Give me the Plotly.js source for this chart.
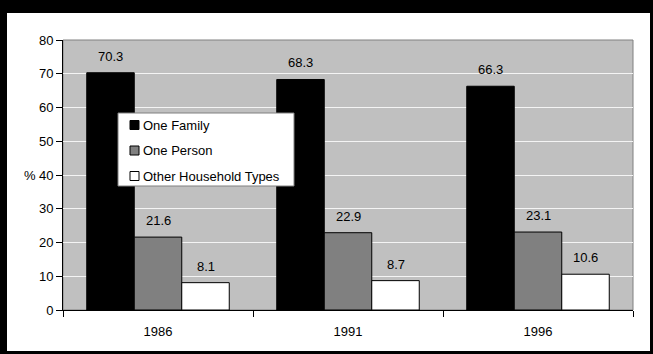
<!DOCTYPE html>
<html>
<head>
<meta charset="utf-8">
<script src="https://cdn.plot.ly/plotly-3.0.1.min.js"></script>
<style>
  html, body { margin: 0; padding: 0; background: #000; width: 653px; height: 354px; overflow: hidden; }
  #chart { position: absolute; left: 7px; top: 13px; width: 643px; height: 338px; background: #fff; }
</style>
</head>
<body>
<div id="chart"></div>
<script>
// Household composition by census year (%)
const years = ['1986', '1991', '1996'];
const oneFamily = [70.3, 68.3, 66.3];
const onePerson = [21.6, 22.9, 23.1];
const otherTypes = [8.1, 8.7, 10.6];
const seriesNames = ['One Family', 'One Person', 'Other Household Types'];
const seriesColors = ['#000000', '#808080', '#ffffff'];
const yTicks = [0, 10, 20, 30, 40, 50, 60, 70, 80];

const seriesValues = [oneFamily, onePerson, otherTypes];
const font = 'Liberation Sans, Arial, sans-serif';
const fontSize = 13;

// plot-area geometry (pixels inside the chart div)
const W = 643, H = 338;
const M = { l: 56, r: 17, t: 27, b: 41 };
const plotW = W - M.l - M.r, plotH = H - M.t - M.b;
const px = v => v / plotW;          // horizontal pixels -> paper fraction
const py = v => v / plotH;          // vertical pixels -> paper fraction

const traces = seriesValues.map((vals, i) => ({
  type: 'bar',
  x: years,
  y: vals,
  name: seriesNames[i],
  marker: { color: seriesColors[i], line: { color: '#000', width: 1 } },
  hoverinfo: 'skip',
  showlegend: false
}));

// value labels above each bar (three bars per group, each a quarter of a category wide)
const annotations = [];
seriesValues.forEach((vals, i) => {
  vals.forEach((v, j) => {
    annotations.push({
      xref: 'x', yref: 'y', x: j + (i - 1) * 0.25, y: v,
      text: v.toFixed(1), showarrow: false,
      xanchor: 'center', yanchor: 'bottom', yshift: 7,
      font: { family: font, size: fontSize, color: '#000' }
    });
  });
});
// unit label beside the 40 tick
annotations.push({
  xref: 'paper', yref: 'y', x: -px(25), y: 40, text: '%', showarrow: false,
  xanchor: 'right', yanchor: 'middle',
  font: { family: font, size: fontSize, color: '#000' }
});

// key box: white panel with a swatch and caption per series
const shapes = [{
  type: 'rect', xref: 'paper', yref: 'paper', x0: 0, x1: 1, y0: 0, y1: 1,
  line: { color: '#808080', width: 1 }, layer: 'below'
}];
const keyLeft = 55, keyTop = 73, keyW = 176, keyH = 73;   // pixels from plot's top-left
shapes.push({
  type: 'rect', xref: 'paper', yref: 'paper',
  x0: px(keyLeft), x1: px(keyLeft + keyW),
  y0: 1 - py(keyTop + keyH), y1: 1 - py(keyTop),
  fillcolor: '#ffffff', line: { color: '#808080', width: 1 }, layer: 'above'
});
seriesNames.forEach((name, i) => {
  const cy = keyTop + 12 + i * 25.5;
  shapes.push({
    type: 'rect', xref: 'paper', yref: 'paper',
    x0: px(keyLeft + 12), x1: px(keyLeft + 21),
    y0: 1 - py(cy + 4.5), y1: 1 - py(cy - 4.5),
    fillcolor: seriesColors[i], line: { color: '#000', width: 1 }, layer: 'above'
  });
  annotations.push({
    xref: 'paper', yref: 'paper', x: px(keyLeft + 23), y: 1 - py(cy),
    text: name, showarrow: false, xanchor: 'left', yanchor: 'middle',
    font: { family: font, size: fontSize, color: '#000' }
  });
});

const layout = {
  width: W, height: H,
  margin: M,
  paper_bgcolor: '#ffffff',
  plot_bgcolor: '#c0c0c0',
  barmode: 'group',
  bargap: 0.25,
  bargroupgap: 0,
  font: { family: font, size: fontSize, color: '#000' },
  showlegend: false,
  xaxis: {
    type: 'category',
    tickson: 'boundaries',
    ticks: 'outside', ticklen: 6, tickcolor: '#000',
    ticklabelstandoff: 9,
    showline: true, linecolor: '#000', linewidth: 1,
    showgrid: false, fixedrange: true,
    tickfont: { family: font, size: fontSize, color: '#000' }
  },
  yaxis: {
    range: [0, 80],
    tickvals: yTicks,
    ticks: 'outside', ticklen: 6, tickcolor: '#000',
    showline: true, linecolor: '#000', linewidth: 1,
    showgrid: true, gridcolor: '#f4f4f4', gridwidth: 1,
    zeroline: false, fixedrange: true,
    tickfont: { family: font, size: fontSize, color: '#000' }
  },
  shapes: shapes,
  annotations: annotations
};

Plotly.newPlot('chart', traces, layout, { displayModeBar: false, staticPlot: true });
</script>
</body>
</html>
